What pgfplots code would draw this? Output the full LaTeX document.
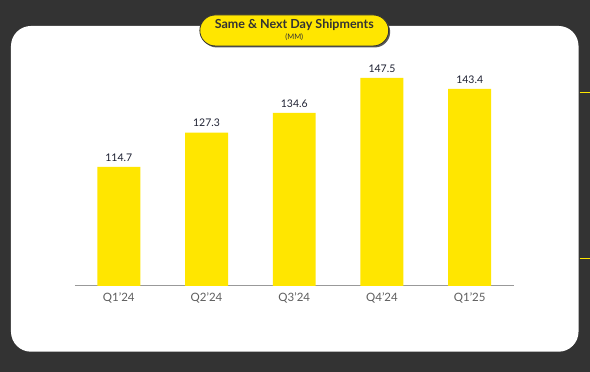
\documentclass[border=0pt]{standalone}
\usepackage{pgfplots}
\pgfplotsset{compat=1.18}
\usepackage{fontspec}
\setmainfont{Lato}
\definecolor{bg}{HTML}{333333}
\definecolor{ylw}{HTML}{FFE600}
\definecolor{tickgray}{HTML}{5E5E5E}
\definecolor{valdark}{HTML}{1F2233}
\begin{document}
\begin{tikzpicture}[x=1pt,y=1pt]
\fill[bg] (0,0) rectangle (590,372);
\fill[white] (11,20) [rounded corners=20pt] rectangle (579,346);
\draw[ylw, line width=1pt] (580,279) -- (590,279);
\draw[ylw, line width=1pt] (580,113) -- (590,113);
% title pill
\fill[gray!70!black, rounded corners=15.5pt] (201.5,324.5) rectangle (390.5,355.5);
\filldraw[fill=ylw, draw=bg, line width=0.8pt, rounded corners=15.5pt] (200,326) rectangle (389,357);
\node[font=\bfseries\fontsize{12.5}{13}\selectfont, text=bg] at (294.5,347.5) {Same \& Next Day Shipments};
\node[font=\fontsize{7.5}{8}\selectfont, text=bg] at (294.5,334.5) {(MM)};
\begin{axis}[
  at={(75pt,86pt)}, anchor=south west,
  scale only axis, width=439pt, height=226pt,
  ybar, bar width=43pt,
  xmin=-0.5, xmax=4.5, ymin=70.8, ymax=154.1,
  axis x line=bottom, axis y line=none,
  axis line style={-, draw=black!40, line width=1pt},
  xtick={0,1,2,3,4},
  xticklabels={Q1'24,Q2'24,Q3'24,Q4'24,Q1'25},
  major tick length=0pt,
  xticklabel style={font=\fontsize{11.5}{12}\selectfont, text=tickgray, yshift=-3pt},
  /pgf/number format/assume math mode=true,
  nodes near coords,
  nodes near coords style={font=\fontsize{10.5}{12}\selectfont, text=valdark, /pgf/number format/fixed, /pgf/number format/precision=1, /pgf/number format/fixed zerofill, yshift=2pt},
  clip=false,
]
\addplot[fill=ylw, draw=none] coordinates {(0,114.7) (1,127.3) (2,134.6) (3,147.5) (4,143.4)};
\end{axis}
\end{tikzpicture}
\end{document}
